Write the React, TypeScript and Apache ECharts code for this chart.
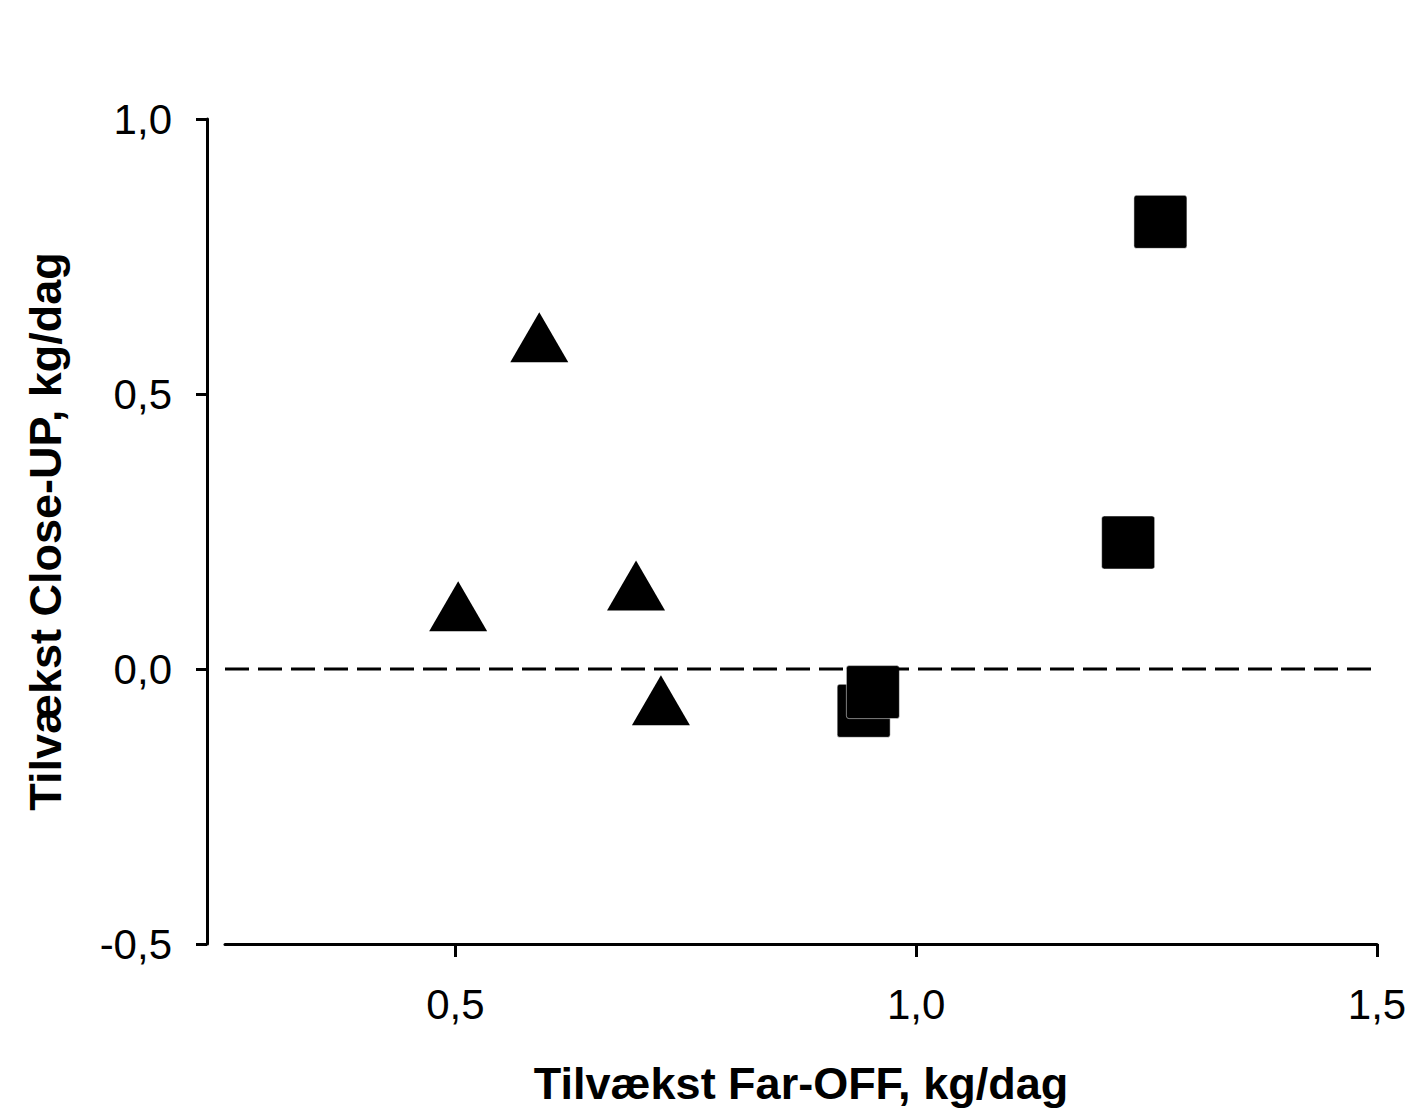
import React, { useEffect, useRef } from "react";
import * as echarts from "echarts";

const xTicks = [0.5, 1.0, 1.5];
const yTicks = [-0.5, 0.0, 0.5, 1.0];
const triangleX = [0.503, 0.591, 0.696, 0.723];
const triangleY = [0.114, 0.603, 0.152, -0.057];
const squareX = [1.265, 1.23, 0.943, 0.953];
const squareY = [0.813, 0.23, -0.076, -0.042];
const refLineX = [0.25, 1.5];
const refLineY = [0, 0];
const xTitle = "Tilvækst Far-OFF, kg/dag";
const yTitle = "Tilvækst Close-UP, kg/dag";

const fmt = (v: number) => v.toFixed(1).replace(".", ",");
const FONT = "Liberation Sans, Arial, sans-serif";
const squarePath =
  "path://M5,0 H95 Q100,0 100,5 V95 Q100,100 95,100 H5 Q0,100 0,95 V5 Q0,0 5,0 Z";

export default function App() {
  const ref = useRef<HTMLDivElement>(null);
  useEffect(() => {
    if (!ref.current) return;
    const chart = echarts.init(ref.current, null, { renderer: "svg" });
    chart.setOption({
      animation: false,
      backgroundColor: "#ffffff",
      textStyle: { fontFamily: FONT },
      grid: { left: 225, right: 45, top: 119, bottom: 165, containLabel: false },
      xAxis: {
        type: "value",
        min: 0.25,
        max: 1.5,
        name: xTitle,
        nameLocation: "middle",
        nameGap: 117,
        nameTextStyle: { fontSize: 45, fontWeight: "bold", color: "#000", fontFamily: FONT },
        axisLine: { show: true, onZero: false, lineStyle: { color: "#000", width: 3 } },
        axisTick: { show: true, length: 13, customValues: xTicks, lineStyle: { color: "#000", width: 3 } },
        axisLabel: {
          customValues: xTicks,
          formatter: (v: number) => fmt(v),
          fontSize: 42,
          color: "#000",
          margin: 39,
          fontFamily: FONT,
        },
        splitLine: { show: false },
      },
      yAxis: {
        type: "value",
        min: -0.5,
        max: 1.0,
        interval: 0.5,
        offset: 18,
        name: yTitle,
        nameLocation: "middle",
        nameGap: 139,
        nameTextStyle: { fontSize: 45, fontWeight: "bold", color: "#000", fontFamily: FONT },
        axisLine: { show: true, onZero: false, lineStyle: { color: "#000", width: 3 } },
        axisTick: { show: true, length: 11, lineStyle: { color: "#000", width: 3 } },
        axisLabel: {
          formatter: (v: number) => fmt(v),
          fontSize: 42,
          color: "#000",
          margin: 35,
          fontFamily: FONT,
        },
        splitLine: { show: false },
      },
      series: [
        {
          type: "line",
          data: refLineX.map((x, i) => [x, refLineY[i]]),
          symbol: "none",
          lineStyle: { color: "#000", width: 3, type: [24, 9] },
          silent: true,
        },
        {
          type: "scatter",
          data: triangleX.map((x, i) => [x, triangleY[i]]),
          symbol: "triangle",
          symbolSize: [58, 50],
          itemStyle: { color: "#000", opacity: 1 },
        },
        {
          type: "scatter",
          data: squareX.map((x, i) => [x, squareY[i]]),
          symbol: squarePath,
          symbolSize: [53, 53],
          itemStyle: { color: "#000", opacity: 1, borderColor: "#fff", borderWidth: 0.5 },
        },
      ],
    });
    return () => chart.dispose();
  }, []);
  return (
    <div
      ref={ref}
      style={{ position: "absolute", left: 0, top: 0, width: 1422, height: 1111 }}
    />
  );
}
